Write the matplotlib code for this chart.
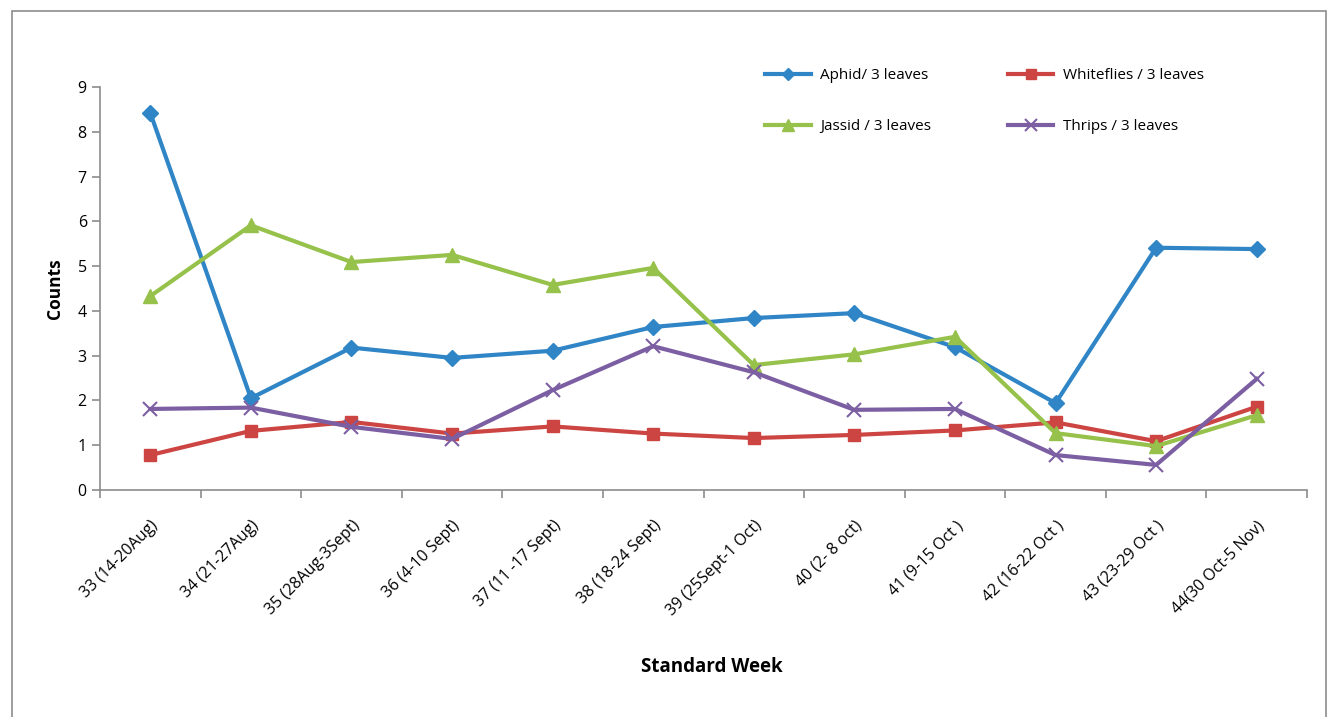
import matplotlib
matplotlib.use("Agg")
import matplotlib.pyplot as plt
from matplotlib.patches import Rectangle
import numpy as np

weeks = [
    "33 (14-20Aug)", "34 (21-27Aug)", "35 (28Aug-3Sept)", "36 (4-10 Sept)",
    "37 (11 -17 Sept)", "38 (18-24 Sept)", "39 (25Sept-1 Oct)", "40 (2- 8 oct)",
    "41 (9-15 Oct )", "42 (16-22 Oct )", "43 (23-29 Oct )", "44(30 Oct-5 Nov)",
]
aphid = [8.42, 2.05, 3.18, 2.95, 3.11, 3.64, 3.84, 3.95, 3.19, 1.94, 5.41, 5.38]
whiteflies = [0.78, 1.32, 1.52, 1.26, 1.42, 1.26, 1.16, 1.23, 1.33, 1.51, 1.09, 1.86]
jassid = [4.33, 5.91, 5.09, 5.25, 4.58, 4.96, 2.79, 3.03, 3.42, 1.27, 0.98, 1.67]
thrips = [1.81, 1.84, 1.41, 1.14, 2.23, 3.21, 2.63, 1.79, 1.81, 0.78, 0.56, 2.48]

plt.rcParams["font.family"] = ["Open Sans", "DejaVu Sans"]

fig = plt.figure(figsize=(13.3, 7.17), dpi=100)
ax = fig.add_axes([0.0752, 0.3166, 0.9075, 0.5621])

# outer chart frame
fig.patches.append(Rectangle((0.009, -0.02), 0.988, 1.004, transform=fig.transFigure,
                             fill=False, edgecolor="#8c8c8c", linewidth=1.2))

x = np.arange(len(weeks))
ax.plot(x, aphid, color="#2f85c5", lw=3, marker="D", ms=8, label="Aphid/ 3 leaves")
ax.plot(x, whiteflies, color="#cc4542", lw=3, marker="s", ms=9, label="Whiteflies / 3 leaves")
ax.plot(x, jassid, color="#96c14a", lw=3, marker="^", ms=10, label="Jassid / 3 leaves")
ax.plot(x, thrips, color="#7c5fa3", lw=3, marker="x", ms=10, mew=1.5, label="Thrips / 3 leaves")

ax.set_xlim(-0.5, len(weeks) - 0.5)
ax.set_ylim(0, 9)
ax.set_yticks(range(0, 10))
ax.set_xticks(x)
ax.set_xticklabels(weeks, rotation=45, ha="right", rotation_mode="anchor", fontsize=11.5)
ax.set_xticks(np.arange(-0.5, len(weeks)), minor=True)
ax.tick_params(axis="x", which="major", length=0, pad=20)
ax.tick_params(axis="x", which="minor", length=6, color="#8c8c8c", width=1.2)
ax.tick_params(axis="y", length=6, color="#8c8c8c", width=1.2, labelsize=11.5)

for side in ["top", "right"]:
    ax.spines[side].set_visible(False)
for side in ["left", "bottom"]:
    ax.spines[side].set_color("#8c8c8c")
    ax.spines[side].set_linewidth(1.2)

ax.set_ylabel("Counts", fontsize=12.5, fontweight="bold", labelpad=10)
fig.text(0.535, 0.063, "Standard Week", fontsize=13.5, fontweight="bold", ha="center")

handles, labels = ax.get_legend_handles_labels()
order = [0, 2, 1, 3]
fig.legend([handles[i] for i in order], [labels[i] for i in order],
           ncol=2, frameon=False, fontsize=11, handlelength=3.0, handletextpad=0.6,
           labelspacing=2.35, columnspacing=5.0, markerscale=0.8,
           loc="upper left", bbox_to_anchor=(0.565, 0.924))

fig.savefig("out.png", dpi=100)
